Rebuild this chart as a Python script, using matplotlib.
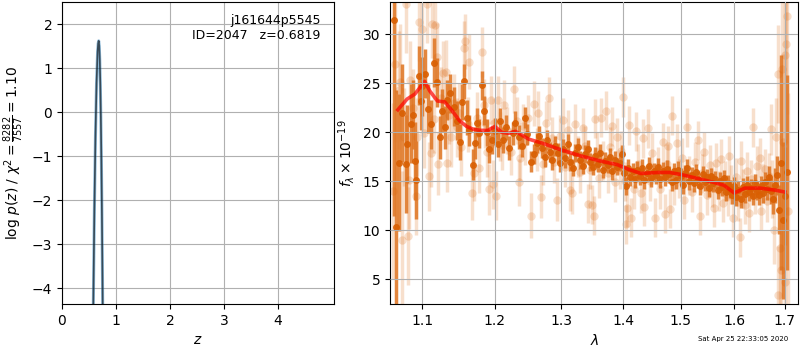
import matplotlib
matplotlib.use("Agg")
import matplotlib.pyplot as plt
from matplotlib.ticker import FixedLocator, FixedFormatter, NullLocator

# p(z) curve
z_grid = [0.50, 0.54, 0.56, 0.58, 0.60, 0.62, 0.64, 0.66, 0.67, 0.68,
          0.69, 0.70, 0.71, 0.72, 0.73, 0.74, 0.75, 0.76, 0.78]
log_pz = [-17.8, -10.1, -7.0, -4.38, -2.22, -0.54, 0.66, 1.38, 1.56, 1.62,
          1.51, 1.18, 0.63, -0.13, -1.12, -2.33, -3.75, -5.4, -9.3]

# best-fit model
model_wave = [1.068, 1.08, 1.09, 1.097, 1.103, 1.11, 1.12, 1.13, 1.14, 1.15,
              1.16, 1.17, 1.18, 1.19, 1.20, 1.21, 1.22, 1.23, 1.24, 1.25,
              1.27, 1.30, 1.33, 1.36, 1.39, 1.41, 1.43, 1.46, 1.48, 1.50,
              1.53, 1.56, 1.58, 1.60, 1.62, 1.65, 1.68, 1.70]
model_flux = [22.3, 23.4, 23.9, 24.6, 25.2, 24.2, 23.2, 23.1, 22.2, 21.2,
              20.6, 20.3, 20.2, 20.2, 20.6, 20.0, 19.9, 20.1, 19.7, 19.3,
              18.9, 18.2, 17.6, 17.1, 16.7, 16.2, 15.8, 15.9, 15.9, 15.7,
              15.3, 14.9, 14.6, 13.8, 14.3, 14.3, 14.1, 13.9]

# unbinned spectrum (faint)
faint_wave = [1.062, 1.065, 1.069, 1.071, 1.074, 1.076, 1.078, 1.081, 1.082, 1.084,
              1.087, 1.091, 1.093, 1.096, 1.099, 1.102, 1.106, 1.109, 1.112, 1.113,
              1.116, 1.117, 1.120, 1.121, 1.125, 1.128, 1.131, 1.133, 1.136, 1.139,
              1.143, 1.146, 1.149, 1.152, 1.156, 1.158, 1.162, 1.164, 1.167, 1.171,
              1.174, 1.178, 1.181, 1.184, 1.186, 1.189, 1.192, 1.195, 1.198, 1.199,
              1.201, 1.205, 1.208, 1.210, 1.214, 1.218, 1.223, 1.228, 1.232, 1.236,
              1.237, 1.241, 1.245, 1.249, 1.254, 1.258, 1.262, 1.264, 1.268, 1.272,
              1.276, 1.281, 1.285, 1.289, 1.293, 1.297, 1.302, 1.306, 1.311, 1.314,
              1.317, 1.322, 1.326, 1.330, 1.334, 1.338, 1.342, 1.346, 1.348, 1.351,
              1.353, 1.357, 1.360, 1.363, 1.367, 1.371, 1.375, 1.378, 1.382, 1.386,
              1.390, 1.394, 1.397, 1.400, 1.403, 1.405, 1.407, 1.410, 1.414, 1.418,
              1.422, 1.426, 1.430, 1.433, 1.436, 1.442, 1.446, 1.450, 1.455, 1.459,
              1.464, 1.469, 1.472, 1.475, 1.478, 1.481, 1.484, 1.488, 1.493, 1.497,
              1.502, 1.507, 1.512, 1.516, 1.521, 1.526, 1.532, 1.535, 1.539, 1.543,
              1.548, 1.553, 1.558, 1.562, 1.566, 1.571, 1.575, 1.579, 1.583, 1.587,
              1.590, 1.594, 1.598, 1.603, 1.607, 1.611, 1.613, 1.617, 1.621, 1.625,
              1.629, 1.633, 1.637, 1.641, 1.645, 1.650, 1.652, 1.656, 1.660, 1.664,
              1.668, 1.672, 1.675, 1.678, 1.682, 1.686, 1.686, 1.690, 1.693, 1.695,
              1.697, 1.700, 1.700, 1.702, 1.704, 1.707]
faint_flux = [14.0, 27.0, 24.3, 25.1, 9.0, 19.5, 33.1, 9.4, 15.1, 25.3,
              22.5, 13.5, 19.5, 31.3, 30.6, 19.9, 33.1, 15.5, 17.9, 31.1,
              21.4, 31.0, 27.7, 16.8, 23.5, 26.1, 26.2, 16.9, 21.8, 19.5,
              23.0, 20.5, 22.0, 18.5, 28.6, 29.3, 20.8, 27.2, 13.8, 15.8,
              21.5, 16.4, 28.2, 22.8, 21.0, 18.0, 14.2, 23.3, 14.7, 21.0,
              13.5, 23.3, 19.6, 18.7, 22.8, 20.2, 18.0, 24.4, 21.2, 14.9,
              17.4, 20.6, 19.0, 21.5, 11.5, 22.9, 18.2, 22.0, 13.4, 16.8,
              21.0, 23.5, 19.4, 17.0, 13.1, 19.6, 21.3, 16.5, 20.2, 14.1,
              13.8, 20.8, 17.5, 15.9, 20.4, 18.6, 12.7, 16.2, 12.6, 11.5,
              21.4, 18.0, 15.3, 21.5, 17.1, 22.2, 15.8, 18.5, 20.6, 14.9,
              19.5, 16.2, 18.1, 23.6, 15.0, 10.6, 12.3, 20.7, 11.3, 14.2,
              20.1, 16.8, 13.8, 19.4, 12.4, 20.4, 15.0, 17.9, 11.3, 16.5,
              14.2, 19.0, 11.7, 16.8, 18.6, 12.2, 21.7, 14.6, 18.9, 15.3,
              17.4, 13.1, 20.5, 15.6, 13.9, 17.0, 19.2, 11.5, 15.8, 18.0,
              13.6, 16.7, 14.4, 12.3, 16.9, 14.0, 17.3, 12.8, 15.1, 13.5,
              17.6, 14.7, 11.3, 15.4, 12.9, 9.3, 17.1, 14.3, 12.6, 16.0,
              11.8, 15.2, 20.5, 13.7, 16.6, 17.4, 12.0, 14.8, 16.3, 13.0,
              15.5, 20.3, 14.2, 10.0, 19.5, 26.0, 3.4, 8.2, 5.9, 26.5,
              19.0, 27.9, 4.7, 29.0, 31.9, 12.0]
faint_err = [9, 8, 6, 6, 7, 5, 5, 5, 5, 4,
             4, 4, 4, 4, 4, 3.5, 4, 3.5, 3.5, 3.5,
             3.5, 3.5, 3.5, 3.2, 3.2, 3.2, 3.2, 3.0, 3.0, 3.0,
             3.0, 3.0, 3.0, 3.0, 2.8, 2.8, 2.8, 2.8, 2.8, 2.8,
             2.6, 2.6, 2.6, 2.6, 2.6, 2.6, 2.6, 2.5, 2.5, 2.5,
             2.5, 2.5, 2.5, 2.5, 2.5, 2.4, 2.4, 2.4, 2.4, 2.4,
             2.4, 2.3, 2.3, 2.3, 2.3, 2.3, 2.2, 2.2, 2.2, 2.2,
             2.2, 2.2, 2.2, 2.2, 2.2, 2.2, 2.2, 2.1, 2.1, 2.1,
             2.1, 2.1, 2.1, 2.1, 2.1, 2.0, 2.0, 2.0, 2.0, 2.0,
             2.0, 2.0, 2.0, 2.0, 2.0, 2.0, 2.0, 2.0, 2.0, 2.0,
             2.0, 2.0, 2.0, 2.0, 2.0, 2.0, 2.0, 2.0, 2.0, 2.0,
             2.0, 2.0, 2.0, 2.0, 2.0, 2.0, 2.0, 2.0, 2.0, 2.0,
             2.0, 2.0, 2.0, 2.0, 2.0, 2.0, 2.0, 2.0, 2.0, 2.0,
             2.0, 2.0, 2.0, 2.0, 2.0, 2.0, 2.0, 2.0, 2.0, 2.0,
             2.0, 2.0, 2.0, 2.0, 2.0, 2.0, 2.0, 2.0, 2.0, 2.0,
             2.0, 2.0, 2.0, 2.0, 2.0, 2.0, 2.0, 2.0, 2.0, 2.0,
             2.0, 2.0, 2.0, 2.0, 2.0, 2.0, 2.0, 2.0, 2.0, 2.2,
             2.4, 2.6, 3, 3.5, 4, 5, 5, 6, 7, 8,
             9, 9, 9, 10, 10, 12]

# binned spectrum (dark)
bin_wave = [1.063, 1.066, 1.070, 1.074, 1.078, 1.080, 1.085, 1.088, 1.090, 1.092,
            1.095, 1.098, 1.100, 1.103, 1.107, 1.111, 1.115, 1.119, 1.123, 1.126,
            1.130, 1.133, 1.137, 1.142, 1.147, 1.151, 1.154, 1.156, 1.161, 1.164,
            1.169, 1.172, 1.175, 1.178, 1.181, 1.185, 1.189, 1.192, 1.196, 1.200,
            1.204, 1.207, 1.212, 1.216, 1.220, 1.226, 1.230, 1.235, 1.240, 1.244,
            1.248, 1.253, 1.258, 1.262, 1.266, 1.270, 1.274, 1.278, 1.282, 1.286,
            1.290, 1.294, 1.298, 1.302, 1.306, 1.310, 1.314, 1.318, 1.322, 1.326,
            1.330, 1.334, 1.338, 1.342, 1.346, 1.350, 1.354, 1.358, 1.362, 1.366,
            1.370, 1.374, 1.378, 1.382, 1.386, 1.390, 1.394, 1.398, 1.402, 1.405,
            1.408, 1.412, 1.416, 1.420, 1.424, 1.428, 1.432, 1.436, 1.440, 1.444,
            1.448, 1.452, 1.456, 1.460, 1.464, 1.468, 1.472, 1.476, 1.480, 1.484,
            1.488, 1.492, 1.496, 1.500, 1.504, 1.508, 1.512, 1.516, 1.520, 1.524,
            1.528, 1.532, 1.536, 1.540, 1.544, 1.548, 1.552, 1.556, 1.560, 1.564,
            1.568, 1.572, 1.576, 1.580, 1.584, 1.588, 1.592, 1.596, 1.600, 1.604,
            1.608, 1.612, 1.616, 1.620, 1.624, 1.628, 1.632, 1.636, 1.640, 1.644,
            1.648, 1.652, 1.656, 1.660, 1.664, 1.668, 1.672, 1.676, 1.680, 1.684,
            1.688, 1.692, 1.696, 1.700, 1.705]
bin_flux = [31.5, 10.3, 16.9, 22.0, 16.8, 18.8, 20.9, 21.8, 17.1, 15.1,
            25.8, 23.2, 24.7, 26.0, 22.4, 20.8, 27.1, 25.1, 19.5, 22.2,
            20.5, 23.3, 24.0, 22.6, 21.2, 19.0, 23.1, 25.2, 21.5, 20.2,
            16.7, 18.9, 21.0, 19.9, 24.8, 22.2, 20.0, 18.3, 19.2, 20.1,
            18.8, 21.2, 19.2, 20.5, 18.4, 19.9, 21.0, 19.5, 18.6, 21.5,
            19.8, 17.0, 17.8, 18.9, 19.6, 18.4, 17.5, 19.2, 18.0, 17.2,
            18.6, 17.9, 16.9, 18.3, 17.4, 18.8, 17.0, 16.4, 17.9, 18.5,
            17.2, 16.6, 17.8, 18.3, 17.0, 16.5, 17.6, 16.8, 17.9, 16.2,
            17.1, 16.7, 17.5, 16.0, 17.2, 16.5, 16.9, 17.8, 15.8, 14.5,
            16.4, 15.4, 16.0, 15.2, 16.2, 15.5, 16.4, 15.1, 15.8, 16.6,
            15.3, 16.0, 15.6, 16.5, 15.2, 16.1, 15.4, 16.3, 15.7, 14.9,
            16.0, 15.1, 16.2, 15.5, 14.6, 15.8, 16.4, 15.0, 15.6, 14.8,
            15.9, 15.2, 14.5, 15.7, 14.9, 15.4, 14.3, 15.5, 14.8, 15.2,
            14.1, 15.0, 14.4, 15.3, 13.9, 14.7, 14.2, 13.6, 14.5, 13.4,
            14.1, 13.2, 14.4, 13.7, 14.6, 13.9, 14.3, 13.5, 14.8, 14.0,
            13.6, 14.5, 13.8, 14.9, 14.2, 15.4, 14.0, 13.2, 14.6, 15.6,
            12.1, 16.9, 11.0, 13.5, 15.9]
bin_err = [20, 14, 7, 5, 5, 4, 4, 3.5, 4, 4,
           3, 3, 3, 2.5, 2.5, 2.5, 2.5, 2.5, 2.2, 2.2,
           2.2, 2, 2, 2, 2, 1.8, 1.8, 1.8, 1.8, 1.6,
           1.6, 1.6, 1.5, 1.5, 1.5, 1.5, 1.4, 1.4, 1.4, 1.4,
           1.3, 1.3, 1.3, 1.3, 1.2, 1.2, 1.2, 1.2, 1.1, 1.1,
           1.1, 1.1, 1.0, 1.0, 1.0, 1.0, 1.0, 1.0, 1.0, 1.0,
           1.0, 1.0, 1.0, 1.0, 1.0, 1.0, 0.9, 0.9, 0.9, 0.9,
           0.9, 0.9, 0.9, 0.9, 0.9, 0.9, 0.9, 0.9, 0.9, 0.9,
           0.9, 0.9, 0.9, 0.9, 0.9, 0.9, 0.9, 0.9, 0.9, 0.9,
           0.9, 0.9, 0.9, 0.9, 0.9, 0.9, 0.9, 0.9, 0.9, 0.9,
           0.9, 0.9, 0.9, 0.9, 0.9, 0.9, 0.9, 0.9, 0.9, 0.9,
           0.9, 0.9, 0.9, 0.9, 0.9, 0.9, 0.9, 0.9, 0.9, 0.9,
           0.9, 0.9, 0.9, 0.9, 0.9, 0.9, 0.9, 0.9, 0.9, 0.9,
           0.9, 0.9, 0.9, 0.9, 0.9, 0.9, 0.9, 0.9, 0.9, 0.9,
           0.9, 0.9, 0.9, 0.9, 0.9, 0.9, 0.9, 0.9, 0.9, 0.9,
           1.0, 1.0, 1.0, 1.0, 1.1, 1.2, 1.3, 1.5, 1.8, 2.0,
           2.5, 11, 8, 5, 10]

lam_ticks = [1.1, 1.2, 1.3, 1.4, 1.5, 1.6, 1.7]
orange = '#d95f02'

fig = plt.figure(figsize=(8, 3.5), dpi=100)

# left panel: redshift probability
axz = fig.add_axes([0.0775, 0.131, 0.34, 0.863])
axz.plot(z_grid, log_pz, color='#1f77b4', lw=2.2, alpha=0.5)
axz.plot(z_grid, log_pz, color='k', lw=1.2, alpha=0.6)
axz.set_xlim(0, 5.04)
axz.set_ylim(-4.36, 2.5)
axz.set_xticks([0, 1, 2, 3, 4])
axz.set_xlabel(r'$z$')
axz.set_ylabel(r'$\log\,p(z)$ / $\chi^2=\frac{8282}{7557}=1.10$')
axz.grid()
axz.text(0.95, 0.96, 'j161644p5545\nID=2047   z=0.6819', transform=axz.transAxes,
         ha='right', va='top', fontsize=9)

# right panel: spectrum
axs = fig.add_axes([0.4875, 0.131, 0.5105, 0.863])
axs.errorbar(faint_wave, faint_flux, yerr=faint_err, fmt='o', color=orange,
             alpha=0.2, ms=6, elinewidth=2.5, capsize=0, mew=0)
axs.errorbar(bin_wave, bin_flux, yerr=bin_err, fmt='o', color=orange,
             ecolor='#e07a2a', alpha=0.9, ms=5, elinewidth=2.5, capsize=0, mew=0)
axs.plot(model_wave, model_flux, color='r', lw=2.6, alpha=0.7, zorder=2.2)
axs.set_xscale('log')
axs.xaxis.set_major_locator(FixedLocator(lam_ticks))
axs.xaxis.set_major_formatter(FixedFormatter([str(t) for t in lam_ticks]))
axs.xaxis.set_minor_locator(NullLocator())
axs.set_xlim(1.058, 1.728)
axs.set_ylim(2.45, 33.3)
axs.set_xlabel(r'$\lambda$')
axs.set_ylabel(r'$f_\lambda\times10^{-19}$')
axs.set_axisbelow(False)
axs.grid()

fig.text(0.985, 0.022, 'Sat Apr 25 22:33:05 2020', ha='right', va='bottom', fontsize=5)

fig.savefig('out.png', dpi=100)
